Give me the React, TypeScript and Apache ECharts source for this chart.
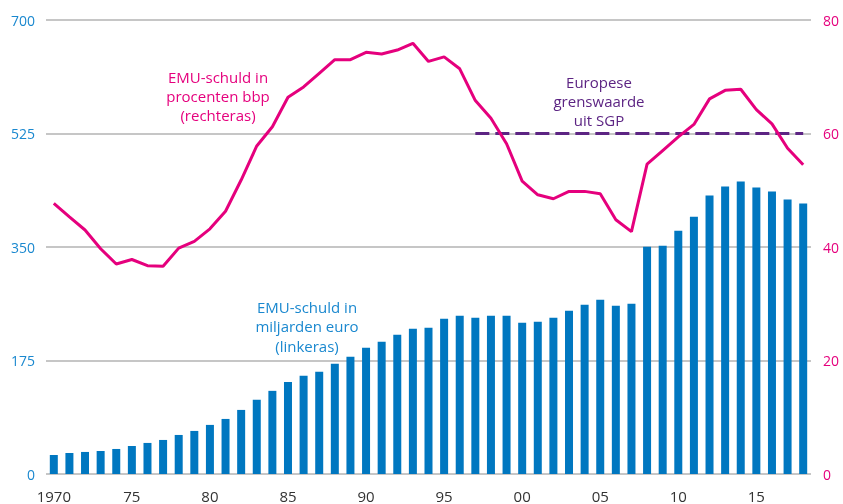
import React, { useEffect, useRef } from "react";
import * as echarts from "echarts";

const years: number[] = [];
for (let y = 1970; y <= 2018; y++) years.push(y);

const debtBillions = [
  29.3, 32.4, 34.0, 35.5, 38.6, 43.2, 47.9, 52.5, 60.2, 66.4,
  75.7, 84.9, 98.8, 114.3, 128.2, 142.0, 151.3, 157.5, 169.9, 180.7,
  194.6, 203.8, 214.6, 223.9, 225.5, 239.3, 244.0, 240.9, 244.0, 244.0,
  233.2, 234.7, 240.9, 251.7, 261.0, 268.7, 259.4, 262.5, 350.5, 352.0,
  375.2, 396.8, 429.3, 443.2, 450.9, 441.6, 435.4, 423.1, 416.9,
];

const debtPctGdp = [
  47.7, 45.3, 43.0, 39.7, 37.0, 37.8, 36.7, 36.6, 39.8, 41.0,
  43.2, 46.3, 51.8, 57.8, 61.2, 66.4, 68.2, 70.6, 73.0, 73.0,
  74.3, 74.0, 74.7, 75.9, 72.7, 73.5, 71.4, 65.8, 62.7, 58.2,
  51.6, 49.2, 48.5, 49.8, 49.8, 49.4, 44.8, 42.7, 54.6, 57.0,
  59.4, 61.6, 66.1, 67.6, 67.8, 64.2, 61.7, 57.4, 54.5,
];

const sgpStartYear = 1997;
const sgpLimit = 60;

const leftTicks = [0, 175, 350, 525, 700];
const rightTicks = [0, 20, 40, 60, 80];

const xTickLabels = years.map((y) =>
  y === 1970 ? "1970" : y % 5 === 0 ? String(y % 100).padStart(2, "0") : ""
);

const BLUE = "#0077c0";
const BLUE_TEXT = "#1a88cf";
const MAGENTA = "#e5007d";
const PURPLE = "#5c2483";
const FONT = "'Open Sans', 'Noto Sans', sans-serif";

export default function App() {
  const ref = useRef<HTMLDivElement>(null);

  useEffect(() => {
    if (!ref.current) return;
    const chart = echarts.init(ref.current, undefined, { renderer: "svg" });
    const sgpData = years.map((y) => (y >= sgpStartYear ? sgpLimit : null));
    chart.setOption({
      animation: false,
      textStyle: { fontFamily: FONT },
      grid: { left: 46, right: 32, top: 20, bottom: 30 },
      xAxis: {
        type: "category",
        data: years.map(String),
        boundaryGap: true,
        axisLine: { show: false },
        axisTick: { show: false },
        axisLabel: {
          color: "#333",
          fontSize: 15,
          margin: 14,
          interval: 0,
          formatter: (_v: string, i: number) => xTickLabels[i],
        },
      },
      yAxis: [
        {
          type: "value",
          min: leftTicks[0],
          max: leftTicks[leftTicks.length - 1],
          interval: 175,
          axisLine: { show: false },
          axisTick: { show: false },
          axisLabel: { color: BLUE_TEXT, fontSize: 14, margin: 11 },
          splitLine: { lineStyle: { color: "#b3b3b3", width: 1.5 } },
        },
        {
          type: "value",
          min: rightTicks[0],
          max: rightTicks[rightTicks.length - 1],
          interval: 20,
          position: "right",
          axisLine: { show: false },
          axisTick: { show: false },
          axisLabel: { color: MAGENTA, fontSize: 14, margin: 12 },
          splitLine: { show: false },
        },
      ],
      series: [
        {
          name: "EMU-schuld in miljarden euro",
          type: "bar",
          data: debtBillions,
          barWidth: 8,
          itemStyle: { color: BLUE },
          z: 2,
        },
        {
          name: "Europese grenswaarde uit SGP",
          type: "line",
          yAxisIndex: 1,
          data: sgpData,
          symbol: "none",
          lineStyle: { color: PURPLE, width: 3, type: [14, 6] },
          z: 3,
        },
        {
          name: "EMU-schuld in procenten bbp",
          type: "line",
          yAxisIndex: 1,
          data: debtPctGdp,
          symbol: "none",
          lineStyle: { color: MAGENTA, width: 3 },
          z: 4,
        },
      ],
      graphic: [
        {
          type: "text",
          x: 218,
          y: 96,
          style: {
            text: "EMU-schuld in\nprocenten bbp\n(rechteras)",
            fill: MAGENTA,
            font: `15px ${FONT}`,
            align: "center",
            verticalAlign: "middle",
            lineHeight: 19,
          },
        },
        {
          type: "text",
          x: 307,
          y: 326,
          style: {
            text: "EMU-schuld in\nmiljarden euro\n(linkeras)",
            fill: BLUE_TEXT,
            font: `15px ${FONT}`,
            align: "center",
            verticalAlign: "middle",
            lineHeight: 19.5,
          },
        },
        {
          type: "text",
          x: 599,
          y: 101,
          style: {
            text: "Europese\ngrenswaarde\nuit SGP",
            fill: PURPLE,
            font: `15px ${FONT}`,
            align: "center",
            verticalAlign: "middle",
            lineHeight: 19,
          },
        },
      ],
    });
    return () => chart.dispose();
  }, []);

  return (
    <div
      ref={ref}
      style={{ position: "fixed", left: 0, top: 0, width: 843, height: 504 }}
    />
  );
}
